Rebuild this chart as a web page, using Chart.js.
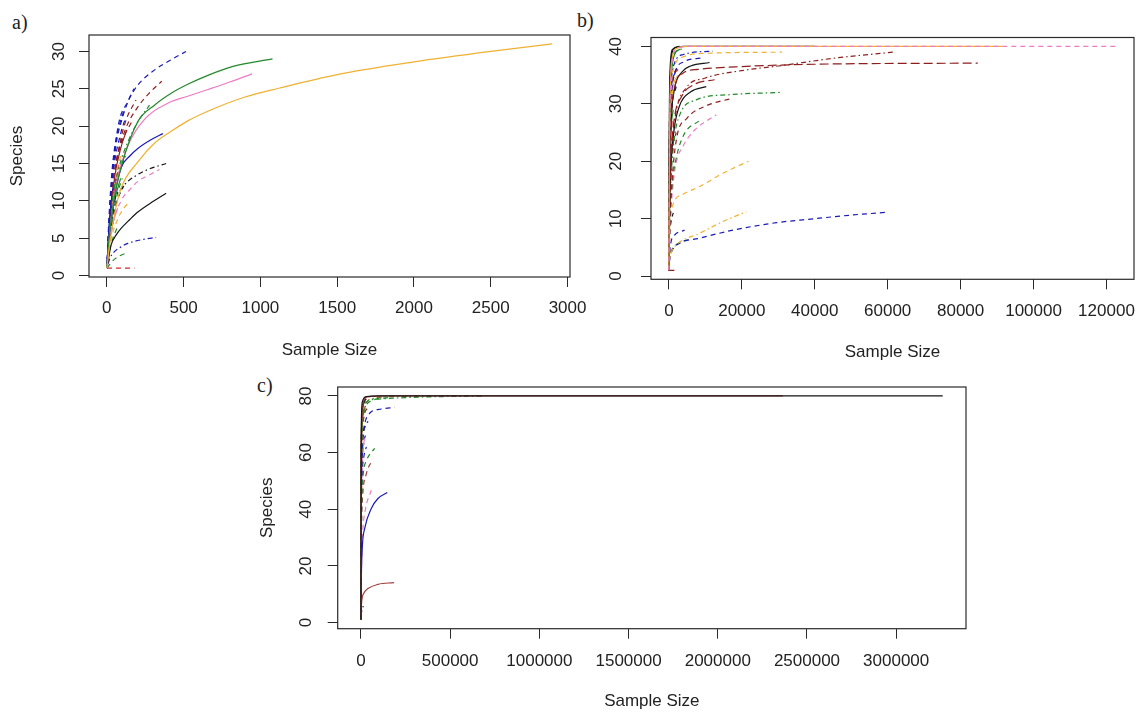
<!DOCTYPE html>
<html>
<head>
<meta charset="utf-8">
<script src="https://cdn.jsdelivr.net/npm/chart.js@4/dist/chart.umd.min.js"></script>
<style>
  html, body { margin: 0; padding: 0; background: #fff; width: 1141px; height: 713px; overflow: hidden; }
  body { position: relative; }
  canvas { position: absolute; left: 0; top: 0; }
  .tag { position: absolute; font-family: 'Liberation Serif', serif; font-size: 20px; line-height: 20px; color: #222; }
</style>
</head>
<body>
<div class="tag" style="left:12px;top:12px">a)</div>
<div class="tag" style="left:577px;top:10px">b)</div>
<div class="tag" style="left:257px;top:375px">c)</div>
<canvas id="chartA" width="1141" height="713"></canvas>
<canvas id="chartB" width="1141" height="713"></canvas>
<canvas id="chartC" width="1141" height="713"></canvas>
<script>
// ---- a) rarefaction curves: [sample size, species] ----
const a01 = [[1,1],[20,4.5],[50,8.2],[93,11.7],[202,15.2],[310,17.7],[419,19.3],[527,20.7],[658,22.0],[900,23.9],[1126,25.1],[1500,26.9],[2000,28.6],[2500,30.0],[2900,31.0]];
const a02 = [[1,1],[15,5],[45,10],[100,15],[202,20.6],[310,22.8],[419,24.4],[527,25.6],[658,26.8],[822,28.0],[1079,29.0]];
const a03 = [[1,1],[20,6],[60,12],[130,17],[250,21],[400,23.1],[527,24.0],[658,24.9],[800,25.9],[946,27.0]];
const a04 = [[1,1],[15,7],[40,14],[72,19.8],[137,23.3],[202,25.5],[310,27.5],[419,28.9],[516,30.0]];
const a05 = [[1,1],[10,5],[30,12],[60,17.5],[100,21],[140,23.4],[176,25.0]];
const a06 = [[1,1],[20,8],[60,15],[120,19.5],[200,22.5],[280,24.5],[358,26.0]];
const a07 = [[1,1],[20,6],[50,10.5],[93,14.4],[150,16],[202,17.0],[290,18.2],[365,19.0]];
const a08 = [[1,1],[15,4],[50,9.9],[90,11.5],[137,12.6],[200,13.5],[256,14.1],[386,15.0]];
const a09 = [[1,1],[30,6],[93,10],[150,11.5],[202,12.6],[280,13.5],[343,14.2]];
const a10 = [[1,1],[28,4.1],[60,5.4],[93,6.3],[150,7.5],[202,8.5],[300,9.9],[386,11.0]];
const a11 = [[1,1],[20,2.3],[50,3.2],[90,3.8],[137,4.3],[230,4.8],[321,5.1]];
const a12 = [[1,1],[40,2.0],[80,2.6],[126,3.0]];
const a13 = [[1,1],[180,1]];
const a14 = [[1,1],[30,9],[80,14.5],[140,18],[200,20.5],[278,22.8]];
const a15 = [[1,1],[30,5],[70,7.5],[110,9],[150,9.9]];
const a16 = [[1,1],[15,6],[40,12],[70,16],[100,18.3]];
const a17 = [[1,1],[10,4],[30,9],[60,13.5],[90,16]];
const a18 = [[1,1],[10,5],[25,9],[40,11.5],[60,13]];
const a19 = [[1,1],[10,4],[25,8],[50,12],[80,15]];
const a20 = [[1,1],[15,4],[40,8],[70,11],[100,13]];
const a21 = [[1,1],[20,7],[50,13],[90,17],[130,19.5]];
const a22 = [[1,1],[10,3],[25,5.5],[45,7.5]];
const a23 = [[1,1],[15,5],[35,9],[60,12]];
const a24 = [[1,1],[20,6],[50,11],[80,14]];
const a25 = [[1,1],[10,6],[30,13],[50,17],[80,20],[110,22]];
const a26 = [[1,1],[20,8],[60,15],[110,18.5],[160,20.5]];
const a27 = [[1,1],[8,4],[20,8],[35,11],[50,12.5]];
const a28 = [[1,1],[20,9],[50,15],[90,19],[120,21]];
const a29 = [[1,1],[15,5],[40,10],[80,14],[120,16.5]];
const a30 = [[1,1],[20,6],[50,10],[90,13]];
const a31 = [[1,1],[10,4],[25,7],[45,9.5]];
const a32 = [[1,1],[15,4],[40,7],[70,9]];
const a33 = [[1,1],[20,5],[60,9.5],[110,12]];
const a34 = [[1,1],[10,4.5],[30,9],[60,12.5]];
const a35 = [[1,1],[30,8],[70,13],[120,16]];
const a36 = [[1,1],[15,3],[40,5],[70,6.5]];
const a37 = [[1,1],[25,9],[70,16],[120,20.5],[190,23.5]];

// ---- b) ----
const b01 = [[1,1],[150,20],[400,32],[900,37.5],[2000,39.5],[5000,40],[122640,40]];
const b02 = [[1,1],[150,22],[400,33],[900,38],[2000,39.6],[5000,40],[91500,40]];
const b03 = [[1,1],[100,20],[300,32],[700,38],[1500,39.7],[4000,40],[40000,40]];
const b04 = [[1,1],[300,14],[800,22],[1800,28],[4770,32.8],[10000,34.5],[20000,35.8],[30000,36.6],[45900,38.0],[61400,39.0]];
const b05 = [[1,1],[200,18],[600,27],[1500,32.5],[3760,35.3],[8000,36.0],[20000,36.5],[40000,36.9],[84700,37.1]];
const b06 = [[1,1],[200,22],[600,32],[1500,36.5],[4000,38.2],[10000,38.8],[31000,39.0]];
const b07 = [[1,1],[200,24],[600,33],[1500,37],[4000,38.6],[12000,39.2]];
const b08 = [[1,1],[200,18],[600,27],[1500,32.5],[3500,35.5],[6000,36.6],[11160,37.2]];
const b09 = [[1,1],[200,20],[600,30],[1500,35],[4000,37.3],[9000,38]];
const b10 = [[1,1],[200,13],[600,21],[1500,27.5],[3500,31.3],[7000,33.4],[12530,34.2]];
const b11 = [[1,1],[200,12],[600,19.5],[1500,25.8],[3000,29.8],[6000,32.1],[10250,33.0]];
const b12 = [[1,1],[200,10],[600,17],[1500,24],[2930,28.0],[7500,30.7],[16640,31.6],[30800,32.0]];
const b13 = [[1,1],[200,8],[700,15],[2030,23.7],[5000,27.5],[10000,29.6],[17540,31.0]];
const b14 = [[1,1],[300,10],[900,16],[2000,20.5],[4000,24.5],[8400,27.1]];
const b15 = [[1,1],[300,8],[1000,15],[1980,19.7],[3840,22.6],[7000,25.4],[13000,28.1]];
const b16 = [[1,1],[100,5],[400,9.5],[1100,12.4],[4000,14.3],[8420,15.6],[14800,17.9],[21800,20.0]];
const b17 = [[1,1],[150,2.5],[600,4],[2030,5.4],[8420,7.45],[14800,9.5],[21220,11.2]];
const b18 = [[1,1],[200,2.8],[800,4.3],[2930,5.7],[8420,6.6],[17540,8.0],[29440,9.3],[40000,10.0],[49530,10.6],[59400,11.1]];
const b19 = [[1,1],[200,4],[600,6],[1500,7.1],[4300,8.0]];
const b20 = [[1,1],[200,3],[800,4.5],[2500,5.7],[5670,6.4]];
const b21 = [[1,1],[1500,1]];
const b22 = [[1,1],[100,15],[300,28],[700,35],[1500,38.5],[3000,39.5]];
const b23 = [[1,1],[80,12],[250,24],[600,31],[1200,34.5],[2500,36]];
const b24 = [[1,1],[100,10],[300,18],[700,23],[1500,26]];
const b25 = [[1,1],[60,10],[200,20],[500,28],[1200,33],[2500,35]];
const b26 = [[1,1],[100,14],[300,24],[800,30],[1800,33]];
const b27 = [[1,1],[80,8],[250,15],[600,20],[1400,24]];
const b28 = [[1,1],[50,9],[150,16],[400,23],[900,27]];
const b29 = [[1,1],[100,12],[300,22],[800,29],[2000,33]];
const b30 = [[1,1],[100,9],[350,17],[900,22],[2000,25]];
const b31 = [[1,1],[50,6],[200,12],[500,16],[1000,18]];
const b32 = [[1,1],[80,6],[300,12],[800,16]];
const b33 = [[1,1],[50,18],[150,30],[400,37],[1000,39.5],[3000,40]];
const b34 = [[1,1],[60,15],[200,28],[500,35],[1200,38.5],[4000,39.6]];
const b35 = [[1,1],[50,8],[150,15],[400,21],[800,24]];
const b36 = [[1,1],[50,4],[200,7],[600,9.5],[1200,11]];
const b37 = [[1,1],[100,3],[400,4.3],[1000,5]];
const b38 = [[1,1],[50,15],[150,27],[400,35],[1000,38.5]];
const b39 = [[1,1],[80,16],[250,27],[700,33],[1800,35.5]];
const b40 = [[1,1],[40,8],[150,18],[400,26],[900,30]];
const b41 = [[1,1],[60,10],[200,19],[500,25],[1200,29]];
const b42 = [[1,1],[100,16],[300,27],[800,33],[2500,36.5]];
const b43 = [[1,1],[60,7],[200,12],[500,15.5]];
const b44 = [[1,1],[40,10],[150,19],[400,26],[1000,31]];

// ---- c) ----
const c01 = [[1,1],[500,40],[2000,70],[8000,78],[30000,79.8],[100000,80],[3261000,80]];
const c02 = [[1,1],[800,35],[3000,65],[10000,77],[40000,79.7],[150000,80],[2365000,80]];
const c03 = [[1,1],[2000,50],[8000,72],[20700,77.4],[95200,78.9],[244700,79.4],[393700,79.7],[676000,80]];
const c04 = [[1,1],[3000,55],[15000,74],[60000,79],[200000,79.8],[680000,80]];
const c05 = [[1,1],[3000,50],[15000,68],[48700,73.9],[113900,75.4],[188700,76.0]];
const c06 = [[1,1],[3000,55],[20000,75],[60000,78.3],[151000,79.4]];
const c07 = [[1,1],[2000,30],[10000,50],[30000,57],[76500,61.5]];
const c08 = [[1,1],[2000,28],[10000,45],[30000,52.5],[58000,56.8]];
const c09 = [[1,1],[2000,15],[8000,27],[20700,33.2],[58000,40.3],[95200,43.8],[147500,45.9]];
const c10 = [[1,1],[3000,20],[10000,32],[25000,40],[58000,46.7]];
const c11 = [[1,1],[1000,4],[5000,8],[15000,10.3],[39200,12.0],[95200,13.5],[184800,14.1]];
const c12 = [[1,1],[2000,40],[8000,62],[20000,69],[40000,71]];
const c13 = [[1,1],[1500,40],[6000,60],[15000,67],[30000,70]];
const c14 = [[1,1],[1000,40],[5000,65],[15000,74],[35000,77]];
const c15 = [[1,1],[1000,30],[4000,50],[10000,60],[20000,65]];
const c16 = [[1,1],[800,45],[3000,68],[10000,76],[25000,78.5]];
const c17 = [[1,1],[500,20],[2000,40],[5000,48]];
const c18 = [[1,1],[1500,35],[6000,55],[15000,63],[30000,67]];
const c19 = [[1,1],[600,35],[2500,60],[8000,72],[20000,76]];
const c20 = [[1,1],[2000,3],[8000,5],[15000,6]];
const c21 = [[1,1],[400,30],[1500,55],[5000,70],[12000,75]];
const c22 = [[1,1],[1000,40],[5000,63],[15000,72],[40000,76]];
const c23 = [[1,1],[1000,25],[4000,42],[10000,50]];
const c24 = [[1,1],[500,40],[2000,65],[6000,74],[15000,77]];
const c25 = [[1,1],[1500,30],[6000,50],[15000,58],[30000,62]];
const c26 = [[1,1],[800,30],[3000,52],[8000,62]];
const c27 = [[1,1],[1000,50],[4000,70],[12000,77],[30000,79]];

// axis ticks
const ticksAX = [0, 500, 1000, 1500, 2000, 2500, 3000];
const ticksAY = [0, 5, 10, 15, 20, 25, 30];
const ticksBX = [0, 20000, 40000, 60000, 80000, 100000, 120000];
const ticksBY = [0, 10, 20, 30, 40];
const ticksCX = [0, 500000, 1000000, 1500000, 2000000, 2500000, 3000000];
const ticksCY = [0, 20, 40, 60, 80];

const curvesA = [a01,a02,a03,a04,a05,a06,a07,a08,a09,a10,a11,a12,a13,a14,a15,a16,a17,a18,a19,a20,a21,a22,a23,a24,a25,a26,a27,a28,a29,a30,a31,a32,a33,a34,a35,a36,a37];
const curvesB = [b01,b02,b03,b04,b05,b06,b07,b08,b09,b10,b11,b12,b13,b14,b15,b16,b17,b18,b19,b20,b21,b22,b23,b24,b25,b26,b27,b28,b29,b30,b31,b32,b33,b34,b35,b36,b37,b38,b39,b40,b41,b42,b43,b44];
const curvesC = [c01,c02,c03,c04,c05,c06,c07,c08,c09,c10,c11,c12,c13,c14,c15,c16,c17,c18,c19,c20,c21,c22,c23,c24,c25,c26,c27];

// line colours / types, one entry per curve
const styleA = [['orange','solid'],['green','solid'],['pink','solid'],['blue','dashed'],['blue','dashed'],['darkred','dashed'],['blue','solid'],['black','dotdash'],['pink','dashed'],['black','solid'],['blue','dotdash'],['green','dashed'],['red','dashed'],['green','dotdash'],['orange','dashed'],['darkred','dashed'],['orange','dashed'],['blue','solid'],['red','dashed'],['green','dashed'],['darkred','solid'],['black','dashed'],['pink','dashed'],['orange','dotdash'],['blue','dashed'],['darkred','dashed'],
  ['blue','solid'],['blue','dashed'],['darkred','dotdash'],['green','solid'],['orange','solid'],['pink','solid'],['black','dashed'],['red','solid'],['blue','dotdash'],['green','dashed'],['darkred','dashed']];
const styleB = [['pink','dashed'],['orange','solid'],['black','solid'],['darkred','dotdash'],['darkred','longdash'],['orange','dashed'],['blue','dotdash'],['black','solid'],['blue','dashed'],['darkred','longdash'],['black','solid'],['green','dotdash'],['darkred','dashed'],['green','dashed'],['pink','dashed'],['orange','dashed'],['orange','dotdash'],['blue','dashed'],['blue','dashed'],['green','dashed'],['darkred','solid'],['green','solid'],['red','dashed'],['pink','solid'],['orange','solid'],['black','dotdash'],['green','dashed'],['red','solid'],['blue','dashed'],['darkred','dashed'],['orange','dashed'],['pink','dashed'],['black','solid'],['green','dotdash'],['blue','solid'],['black','dashed'],['orange','dotdash'],
  ['red','dashed'],['blue','solid'],['orange','dashed'],['green','solid'],['darkred','dashed'],['pink','dashed'],['black','dotdash']];
const styleC = [['black','solid'],['brown','solid'],['green','dotdash'],['olive','dotdash'],['blue','dashed'],['green','dashed'],['green','dashed'],['brown','dashed'],['blue','solid'],['pink','dashed'],['brown','solid'],['blue','dashed'],['darkred','dashed'],['green','dotdash'],['pink','solid'],['black','dashed'],['orange','solid'],['blue','dotdash'],['red','solid'],['black','dotdash'],['green','solid'],['darkred','dashed'],
  ['pink','dashed'],['darkred','solid'],['blue','dashed'],['orange','dashed'],['black','solid']];

const PALETTE = {
  black: '#151515', red: '#D42A2A', darkred: '#8E1E1E', brown: '#A03C3C',
  green: '#23892A', blue: '#1A1AB8', pink: '#EC7CC3', orange: '#F0B132', olive: '#8B6A1A'
};
const DASHES = { solid: [], dashed: [5, 4], dotdash: [1.5, 3, 5, 3], longdash: [9, 4] };

const FONT = { family: "'Liberation Sans', Arial, sans-serif", size: 17 };
const INK = '#222';

// plot frame drawn round the chart area
const frame = {
  id: 'frame',
  beforeDatasetsDraw(chart) {
    const { ctx, chartArea: a } = chart;
    ctx.save();
    ctx.strokeStyle = '#2a2a2a';
    ctx.lineWidth = 1.2;
    ctx.strokeRect(a.left, a.top, a.right - a.left, a.bottom - a.top);
    ctx.restore();
  }
};

function datasetsFor(curves, styles) {
  return curves.map((pts, i) => ({
    data: pts.map(p => ({ x: p[0], y: p[1] })),
    showLine: true,
    borderColor: PALETTE[styles[i][0]],
    borderDash: DASHES[styles[i][1]],
    borderWidth: 1.2,
    pointRadius: 0,
    cubicInterpolationMode: 'monotone',
    fill: false
  }));
}

function panel(id, p) {
  new Chart(document.getElementById(id), {
    type: 'scatter',
    data: { datasets: datasetsFor(p.curves, p.styles) },
    plugins: [frame],
    options: {
      responsive: false,
      animation: false,
      devicePixelRatio: 1,
      events: [],
      layout: { padding: p.pad },
      plugins: { legend: { display: false }, tooltip: { enabled: false } },
      scales: {
        x: {
          type: 'linear', min: p.xRange[0], max: p.xRange[1], bounds: 'data',
          afterBuildTicks: s => { s.ticks = p.xTicks.map(v => ({ value: v })); },
          afterFit: s => { s.height = p.xH; s.paddingLeft = 0; s.paddingRight = 0; },
          ticks: { callback: v => String(v), font: FONT, color: INK, padding: p.xPad, minRotation: 0, maxRotation: 0, autoSkip: false },
          grid: { drawOnChartArea: false, drawTicks: true, tickLength: 10, color: '#2a2a2a' },
          border: { display: false },
          title: { display: true, text: 'Sample Size', font: FONT, color: INK, padding: { top: 0, bottom: 0 } }
        },
        y: {
          type: 'linear', min: p.yRange[0], max: p.yRange[1], bounds: 'data',
          afterBuildTicks: s => { s.ticks = p.yTicks.map(v => ({ value: v })); },
          afterFit: s => { s.width = p.yW; s.paddingTop = 0; s.paddingBottom = 0; },
          ticks: { callback: v => String(v), font: FONT, color: INK, padding: p.yPad, minRotation: 90, maxRotation: 90, crossAlign: 'center', autoSkip: false },
          grid: { drawOnChartArea: false, drawTicks: true, tickLength: 10, color: '#2a2a2a' },
          border: { display: false },
          title: { display: p.yTitle, text: 'Species', font: FONT, color: INK, padding: { top: 7, bottom: 0 } }
        }
      }
    }
  });
}

panel('chartA', {
  curves: curvesA, styles: styleA,
  xRange: [-116, 3016], yRange: [-0.2, 32.2], xTicks: ticksAX, yTicks: ticksAY,
  pad: { left: 0, top: 35, right: 571, bottom: 352 }, xH: 84, yW: 89, xPad: 11.5, yPad: 10.4, yTitle: true
});
panel('chartB', {
  curves: curvesB, styles: styleB,
  xRange: [-4906, 127546], yRange: [-0.56, 41.56], xTicks: ticksBX, yTicks: ticksBY,
  pad: { left: 590, top: 37.5, right: 7, bottom: 350 }, xH: 83.7, yW: 61, xPad: 12, yPad: 14.8, yTitle: false
});
panel('chartC', {
  curves: curvesC, styles: styleC,
  xRange: [-130440, 3391440], yRange: [-2.16, 83.16], xTicks: ticksCX, yTicks: ticksCY,
  pad: { left: 250, top: 387, right: 175, bottom: 1 }, xH: 83.3, yW: 87.7, xPad: 12.5, yPad: 12.4, yTitle: true
});
</script>
</body>
</html>
